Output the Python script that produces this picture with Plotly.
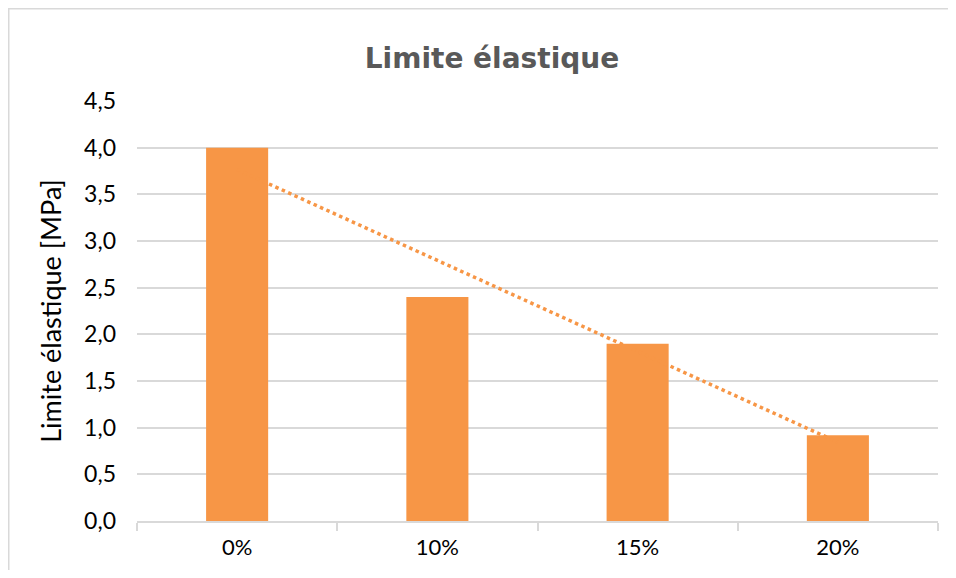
import numpy as np
import plotly.graph_objects as go

# data
categories = ["0%", "10%", "15%", "20%"]
limite = [4.0, 2.4, 1.9, 0.92]
y_ticks = [0, 0.5, 1.0, 1.5, 2.0, 2.5, 3.0, 3.5, 4.0, 4.5]
y_tick_labels = ["0,0", "0,5", "1,0", "1,5", "2,0", "2,5", "3,0", "3,5", "4,0", "4,5"]

ORANGE = "#F79646"
GRID = "#D9D9D9"

# linear trendline (Excel style) fitted on category index
idx = np.arange(1, len(limite) + 1)
slope, intercept = np.polyfit(idx, limite, 1)
trend = slope * idx + intercept

fig = go.Figure()

# trendline drawn first so it sits behind the bars
fig.add_trace(go.Scatter(
    x=categories,
    y=trend,
    mode="lines",
    line=dict(color=ORANGE, width=3.5, dash="dot"),
    hoverinfo="skip",
    showlegend=False
))

fig.add_trace(go.Bar(
    x=categories,
    y=limite,
    marker=dict(color=ORANGE, line=dict(width=0)),
    width=0.31,
    showlegend=False
))

# the page body adds an 8px margin, so the figure is 16px smaller than the window
OFF = 8
W, H = 956 - 2 * OFF, 578 - 2 * OFF
# plot area in page pixels: x 137..938, y 101..521
L, T = 137 - OFF, 101 - OFF
R, B = W - (938 - OFF), H - (521 - OFF)
pw, ph = W - L - R, H - T - B

# light frame round the chart (right/bottom edges fall outside the picture)
fig.add_shape(
    type="rect", xref="paper", yref="paper",
    x0=(0.75 - L) / pw, x1=(W + 20 - L) / pw,
    y0=-(B + 20) / ph, y1=(H - B - 0.75) / ph,
    line=dict(color=GRID, width=1.5), layer="below"
)

fig.update_layout(
    width=W,
    height=H,
    margin=dict(l=L, r=R, t=T, b=B),
    paper_bgcolor="white",
    plot_bgcolor="white",
    title=dict(
        text="<b>Limite élastique</b>",
        x=(492 - OFF - L) / pw, xref="paper", xanchor="center",
        y=1 - (58 - OFF) / H, yanchor="middle",
        font=dict(family="DejaVu Sans", size=28, color="#595959")
    ),
    xaxis=dict(
        type="category",
        showgrid=False,
        showline=True,
        linecolor=GRID,
        linewidth=1.5,
        ticks="outside",
        tickson="boundaries",
        ticklen=8,
        tickcolor=GRID,
        tickwidth=1.5,
        ticklabelstandoff=6,
        tickfont=dict(family="Lato", size=22, color="black"),
        fixedrange=True
    ),
    yaxis=dict(
        range=[0, 4.5],
        tickvals=y_ticks,
        ticktext=y_tick_labels,
        showgrid=True,
        gridcolor=GRID,
        gridwidth=1.5,
        zeroline=False,
        showline=False,
        ticks="",
        ticklabelstandoff=20,
        tickfont=dict(family="Lato", size=23, color="black"),
        title=dict(
            text="Limite élastique [MPa]",
            font=dict(family="Lato", size=27, color="black"),
            standoff=14
        )
    ),
    bargap=0.69
)

fig.write_html("out.html")
